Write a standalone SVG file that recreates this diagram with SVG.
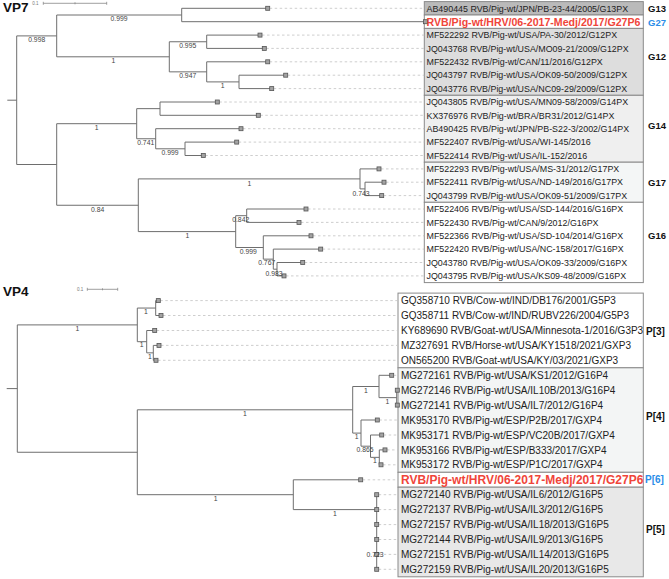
<svg xmlns="http://www.w3.org/2000/svg" xmlns:xlink="http://www.w3.org/1999/xlink" width="669" height="579" viewBox="0 0 669 579">
<style>
.br{fill:none;stroke:#6e6e6e;stroke-width:1}
.ld{fill:none;stroke:#c2c2c2;stroke-width:0.8;stroke-dasharray:2.5 2.5}
.tip{fill:#a3a3a3;stroke:#555;stroke-width:0.8}
.sc{fill:none;stroke:#888;stroke-width:0.8}
.sct{font-family:"Liberation Sans",Arial,sans-serif;font-size:4.5px;fill:#777}
.bs{font-family:"Liberation Sans",Arial,sans-serif;font-size:6.8px;fill:#444;text-anchor:middle}
.l7{font-family:"Liberation Sans",Arial,sans-serif;font-size:8.9px;fill:#222}
.l4{font-family:"Liberation Sans",Arial,sans-serif;font-size:10px;fill:#222}
.r7{font-family:"Liberation Sans",Arial,sans-serif;font-size:10.6px;font-weight:bold;fill:#f0453a}
.r4{font-family:"Liberation Sans",Arial,sans-serif;font-size:12px;font-weight:bold;fill:#f0453a}
.g7{font-family:"Liberation Sans",Arial,sans-serif;font-size:9.5px;font-weight:bold;fill:#111}
.g4{font-family:"Liberation Sans",Arial,sans-serif;font-size:10px;font-weight:bold;fill:#111}
.blue{fill:#2a8de8}
.ttl{font-family:"Liberation Sans",Arial,sans-serif;font-size:13.5px;font-weight:bold;fill:#111}
.box{stroke:#8a8a8a;stroke-width:1}
</style>
<defs>
<rect id="sq" x="-2" y="-2" width="4" height="4" class="tip"/>
</defs>

<g id="titles">
<text class="ttl" x="3" y="11.7">VP7</text>
<text class="ttl" x="3" y="296">VP4</text>
<text class="sct" x="32.3" y="5">0.1</text>
<path class="sc" d="M43.3 3.3H106.7M43.3 1.8V4.8M75 2.3V4.3M106.7 1.8V4.8"/>
<text class="sct" x="77" y="290.8">0.1</text>
<path class="sc" d="M87.3 289.3H117.7M87.3 287.8V290.8M102.5 288.3V290.3M117.7 287.8V290.8"/>
</g>

<g id="vp7-boxes">
<g id="clade-G13"><rect class="box" x="424.3" y="1.6" width="219" height="13.4" fill="#bababa"/><text class="g7" x="648" y="11.7">G13</text></g>
<g id="clade-G27"><rect class="box" x="424.3" y="15" width="219" height="13.4" fill="#fff"/><text class="g7 blue" x="648" y="25.5">G27</text></g>
<g id="clade-G12"><rect class="box" x="424.3" y="28.4" width="219" height="66.9" fill="#dddddd"/><text class="g7" x="648" y="60">G12</text></g>
<g id="clade-G14"><rect class="box" x="424.3" y="95.3" width="219" height="66.9" fill="#efefef"/><text class="g7" x="648" y="129">G14</text></g>
<g id="clade-G17"><rect class="box" x="424.3" y="162.2" width="219" height="40.1" fill="#f4f6f6"/><text class="g7" x="648" y="186">G17</text></g>
<g id="clade-G16"><rect class="box" x="424.3" y="202.3" width="219" height="80.3" fill="#ffffff"/><text class="g7" x="648" y="239.3">G16</text></g>
</g>

<g id="vp4-boxes">
<g id="clade-P3"><rect class="box" x="398" y="293.1" width="245.3" height="74.7" fill="#fff"/><text class="g4" x="646" y="335">P[3]</text></g>
<g id="clade-P4"><rect class="box" x="398" y="367.8" width="245.3" height="104.5" fill="#f3f5f5"/><text class="g4" x="646" y="420">P[4]</text></g>
<g id="clade-P6"><rect class="box" x="398" y="472.3" width="245.3" height="14.9" fill="#fff"/><text class="g4 blue" x="645" y="483">P[6]</text></g>
<g id="clade-P5"><rect class="box" x="398" y="487.2" width="245.3" height="89.6" fill="#e8e8e8"/><text class="g4" x="646" y="533">P[5]</text></g>
</g>

<g id="connectors">
<path class="ld" d="M269.7 8.3H424.3M262 35.1H424.3M266.3 48.4H424.3M269.7 61.8H424.3M287.7 75.2H424.3M273.7 88.6H424.3M219.3 102H424.3M260.3 115.3H424.3M243 128.7H424.3M238.7 142.1H424.3M205.3 155.5H424.3M381 168.9H424.3M386 182.2H424.3M383.7 195.6H424.3M308 209H424.3M301 222.4H424.3M313 235.8H424.3M322.7 249.1H424.3M304.7 262.5H424.3M286 275.9H424.3"/>
<path class="ld" d="M160.3 300.6H398M163 315.5H398M156.7 330.5H398M161 345.4H398M158 360.3H398M393.7 375.3H398M379.3 420H398M383.7 435H398M387 449.9H398M383 464.8H398M362.7 479.8H398M378.7 494.7H398M378.7 509.6H398M378.7 524.6H398M378.7 539.5H398M378.7 554.4H398M378.7 569.3H398"/>
<path class="br" d="M7.3 100.2H16.7M16.7 35.9V164.5
M16.7 35.9H56.7M56.7 15V56.8
M56.7 15H181.7M181.7 8.3V21.7M181.7 8.3H267.7M181.7 21.7H424.3
M56.7 56.8H169.3M169.3 41.75V71.85
M169.3 41.75H206.7M206.7 35.1V48.4M206.7 35.1H260M206.7 48.4H264.3
M169.3 71.85H206.7M206.7 61.8V81.9M206.7 61.8H267.7
M206.7 81.9H239M239 75.2V88.6M239 75.2H285.7M239 88.6H271.7
M16.7 164.5H56.7M56.7 123.7V205.25
M56.7 123.7H136.7M136.7 108.65V138.75
M136.7 108.65H160M160 102V115.3M160 102H217.3M160 115.3H258.3
M136.7 138.75H155.7M155.7 128.7V148.8M155.7 128.7H241
M155.7 148.8H185M185 142.1V155.5M185 142.1H236.7M185 155.5H203.3
M56.7 205.25H138.3M138.3 178.9V231.6
M138.3 178.9H360M360 168.9V188.9M360 168.9H379
M360 188.9H365M365 182.2V195.6M365 182.2H384M365 195.6H381.7
M138.3 231.6H235.7M235.7 215.7V247.5
M235.7 215.7H246.7M246.7 209V222.4M246.7 209H306M246.7 222.4H299
M235.7 247.5H263.3M263.3 235.8V259.15M263.3 235.8H311
M263.3 259.15H273.3M273.3 249.1V269.2M273.3 249.1H320.7
M273.3 269.2H277M277 262.5V275.9M277 262.5H302.7M277 275.9H284"/>
<path class="br" d="M6.7 388.6H17.3M17.3 324.9V452.25
M17.3 324.9H137.3M137.3 308.05V341.7
M137.3 308.05H155.7M155.7 300.6V315.5M155.7 300.6H158.3M155.7 315.5H161
M137.3 341.7H146.7M146.7 330.5V352.85M146.7 330.5H154.7
M146.7 352.85H153.3M153.3 345.4V360.3M153.3 345.4H159M153.3 360.3H156
M17.3 452.25H137.3M137.3 409.8V494.7
M137.3 409.8H352.7M352.7 386.5V433.1
M352.7 386.5H379M379 375.3V397.65M379 375.3H391.7
M379 397.65H396.7M396.7 390.2V405.1
M352.7 433.1H361M361 420V446.2M361 420H377.3
M361 446.2H370.5M370.5 435V457.35M370.5 435H381.7
M370.5 457.35H379.3M379.3 449.9V464.8M379.3 449.9H385M379.3 464.8H381
M137.3 494.7H293.3M293.3 479.8V509.6M293.3 479.8H360.7
M293.3 509.6H376.7M376.7 494.7V569.3"/>
<g id="tips">
<use xlink:href="#sq" x="267.7" y="8.3"/><use xlink:href="#sq" x="425.5" y="21.7"/><use xlink:href="#sq" x="260" y="35.1"/><use xlink:href="#sq" x="264.3" y="48.4"/><use xlink:href="#sq" x="267.7" y="61.8"/><use xlink:href="#sq" x="285.7" y="75.2"/><use xlink:href="#sq" x="271.7" y="88.6"/><use xlink:href="#sq" x="217.3" y="102"/><use xlink:href="#sq" x="258.3" y="115.3"/><use xlink:href="#sq" x="241" y="128.7"/><use xlink:href="#sq" x="236.7" y="142.1"/><use xlink:href="#sq" x="203.3" y="155.5"/><use xlink:href="#sq" x="379" y="168.9"/><use xlink:href="#sq" x="384" y="182.2"/><use xlink:href="#sq" x="381.7" y="195.6"/><use xlink:href="#sq" x="306" y="209"/><use xlink:href="#sq" x="299" y="222.4"/><use xlink:href="#sq" x="311" y="235.8"/><use xlink:href="#sq" x="320.7" y="249.1"/><use xlink:href="#sq" x="302.7" y="262.5"/><use xlink:href="#sq" x="284" y="275.9"/>
<use xlink:href="#sq" x="158.3" y="300.6"/><use xlink:href="#sq" x="161" y="315.5"/><use xlink:href="#sq" x="154.7" y="330.5"/><use xlink:href="#sq" x="159" y="345.4"/><use xlink:href="#sq" x="156" y="360.3"/><use xlink:href="#sq" x="391.7" y="375.3"/><use xlink:href="#sq" x="397.3" y="390.2"/><use xlink:href="#sq" x="397.3" y="405.1"/><use xlink:href="#sq" x="377.3" y="420"/><use xlink:href="#sq" x="381.7" y="435"/><use xlink:href="#sq" x="385" y="449.9"/><use xlink:href="#sq" x="381" y="464.8"/><use xlink:href="#sq" x="360.7" y="479.8"/><use xlink:href="#sq" x="376.7" y="494.7"/><use xlink:href="#sq" x="376.7" y="509.6"/><use xlink:href="#sq" x="376.7" y="524.6"/><use xlink:href="#sq" x="376.7" y="539.5"/><use xlink:href="#sq" x="376.7" y="554.4"/><use xlink:href="#sq" x="376.7" y="569.3"/>
</g>
<g id="support">
<text class="bs" x="36.7" y="42.4">0.998</text>
<text class="bs" x="119" y="21.4">0.999</text>
<text class="bs" x="113.3" y="63.4">1</text>
<text class="bs" x="187.7" y="48.1">0.995</text>
<text class="bs" x="187.7" y="78.1">0.947</text>
<text class="bs" x="222.7" y="88.4">1</text>
<text class="bs" x="96.7" y="130.1">1</text>
<text class="bs" x="145.7" y="145.1">0.741</text>
<text class="bs" x="170" y="155.1">0.999</text>
<text class="bs" x="97.7" y="211.7">0.84</text>
<text class="bs" x="249.3" y="185.7">1</text>
<text class="bs" x="361" y="196.4">0.743</text>
<text class="bs" x="187.3" y="238.4">1</text>
<text class="bs" x="240.7" y="222.4">0.842</text>
<text class="bs" x="248.3" y="253.9">0.999</text>
<text class="bs" x="266.7" y="265.4">0.767</text>
<text class="bs" x="274" y="275.9">0.983</text>
<text class="bs" x="77.3" y="330.7">1</text>
<text class="bs" x="146" y="314.1">1</text>
<text class="bs" x="141.7" y="347.4">1</text>
<text class="bs" x="150" y="359.1">1</text>
<text class="bs" x="245" y="415.7">1</text>
<text class="bs" x="366" y="393.1">1</text>
<text class="bs" x="387.3" y="404.1">1</text>
<text class="bs" x="356.7" y="438.9">1</text>
<text class="bs" x="365" y="451.9">0.865</text>
<text class="bs" x="375" y="462.9">1</text>
<text class="bs" x="215.7" y="501.4">1</text>
<text class="bs" x="335" y="515.7">1</text>
<text class="bs" x="375" y="557.4">0.723</text>
</g>
</g>

<g id="vp7-leaves">
<g id="leaf-AB490445"><text class="l7" x="426.5" y="11.5">AB490445 RVB/Pig-wt/JPN/PB-23-44/2005/G13PX</text></g>
<g id="leaf-HRV-VP7"><text class="r7" x="426.5" y="25.5">RVB/Pig-wt/HRV/06-2017-Medj/2017/G27P6</text></g>
<g id="leaf-MF522292"><text class="l7" x="426.5" y="38.3">MF522292 RVB/Pig-wt/USA/PA-30/2012/G12PX</text></g>
<g id="leaf-JQ043768"><text class="l7" x="426.5" y="51.6">JQ043768 RVB/Pig-wt/USA/MO09-21/2009/G12PX</text></g>
<g id="leaf-MF522432"><text class="l7" x="426.5" y="65">MF522432 RVB/Pig-wt/CAN/11/2016/G12PX</text></g>
<g id="leaf-JQ043797"><text class="l7" x="426.5" y="78.4">JQ043797 RVB/Pig-wt/USA/OK09-50/2009/G12PX</text></g>
<g id="leaf-JQ043776"><text class="l7" x="426.5" y="91.8">JQ043776 RVB/Pig-wt/USA/NC09-29/2009/G12PX</text></g>
<g id="leaf-JQ043805"><text class="l7" x="426.5" y="105.2">JQ043805 RVB/Pig-wt/USA/MN09-58/2009/G14PX</text></g>
<g id="leaf-KX376976"><text class="l7" x="426.5" y="118.5">KX376976 RVB/Pig-wt/BRA/BR31/2012/G14PX</text></g>
<g id="leaf-AB490425"><text class="l7" x="426.5" y="131.9">AB490425 RVB/Pig-wt/JPN/PB-S22-3/2002/G14PX</text></g>
<g id="leaf-MF522407"><text class="l7" x="426.5" y="145.3">MF522407 RVB/Pig-wt/USA/WI-145/2016</text></g>
<g id="leaf-MF522414"><text class="l7" x="426.5" y="158.7">MF522414 RVB/Pig-wt/USA/IL-152/2016</text></g>
<g id="leaf-MF522293"><text class="l7" x="426.5" y="172.1">MF522293 RVB/Pig-wt/USA/MS-31/2012/G17PX</text></g>
<g id="leaf-MF522411"><text class="l7" x="426.5" y="185.4">MF522411 RVB/Pig-wt/USA/ND-149/2016/G17PX</text></g>
<g id="leaf-JQ043799"><text class="l7" x="426.5" y="198.8">JQ043799 RVB/Pig-wt/USA/OK09-51/2009/G17PX</text></g>
<g id="leaf-MF522406"><text class="l7" x="426.5" y="212.2">MF522406 RVB/Pig-wt/USA/SD-144/2016/G16PX</text></g>
<g id="leaf-MF522430"><text class="l7" x="426.5" y="225.6">MF522430 RVB/Pig-wt/CAN/9/2012/G16PX</text></g>
<g id="leaf-MF522366"><text class="l7" x="426.5" y="239">MF522366 RVB/Pig-wt/USA/SD-104/2014/G16PX</text></g>
<g id="leaf-MF522420"><text class="l7" x="426.5" y="252.3">MF522420 RVB/Pig-wt/USA/NC-158/2017/G16PX</text></g>
<g id="leaf-JQ043780"><text class="l7" x="426.5" y="265.7">JQ043780 RVB/Pig-wt/USA/OK09-33/2009/G16PX</text></g>
<g id="leaf-JQ043795"><text class="l7" x="426.5" y="279.1">JQ043795 RVB/Pig-wt/USA/KS09-48/2009/G16PX</text></g>
</g>

<g id="vp4-leaves">
<g id="leaf-GQ358710"><text class="l4" x="401" y="304.2">GQ358710 RVB/Cow-wt/IND/DB176/2001/G5P3</text></g>
<g id="leaf-GQ358711"><text class="l4" x="401" y="319.1">GQ358711 RVB/Cow-wt/IND/RUBV226/2004/G5P3</text></g>
<g id="leaf-KY689690"><text class="l4" x="401" y="334.1">KY689690 RVB/Goat-wt/USA/Minnesota-1/2016/G3P3</text></g>
<g id="leaf-MZ327691"><text class="l4" x="401" y="349">MZ327691 RVB/Horse-wt/USA/KY1518/2021/GXP3</text></g>
<g id="leaf-ON565200"><text class="l4" x="401" y="363.9">ON565200 RVB/Goat-wt/USA/KY/03/2021/GXP3</text></g>
<g id="leaf-MG272161"><text class="l4" x="401" y="378.9">MG272161 RVB/Pig-wt/USA/KS1/2012/G16P4</text></g>
<g id="leaf-MG272146"><text class="l4" x="401" y="393.8">MG272146 RVB/Pig-wt/USA/IL10B/2013/G16P4</text></g>
<g id="leaf-MG272141"><text class="l4" x="401" y="408.7">MG272141 RVB/Pig-wt/USA/IL7/2012/G16P4</text></g>
<g id="leaf-MK953170"><text class="l4" x="401" y="423.6">MK953170 RVB/Pig-wt/ESP/P2B/2017/GXP4</text></g>
<g id="leaf-MK953171"><text class="l4" x="401" y="438.6">MK953171 RVB/Pig-wt/ESP/VC20B/2017/GXP4</text></g>
<g id="leaf-MK953166"><text class="l4" x="401" y="453.5">MK953166 RVB/Pig-wt/ESP/B333/2017/GXP4</text></g>
<g id="leaf-MK953172"><text class="l4" x="401" y="468.4">MK953172 RVB/Pig-wt/ESP/P1C/2017/GXP4</text></g>
<g id="leaf-HRV-VP4"><text class="r4" x="401" y="484.1">RVB/Pig-wt/HRV/06-2017-Medj/2017/G27P6</text></g>
<g id="leaf-MG272140"><text class="l4" x="401" y="498.3">MG272140 RVB/Pig-wt/USA/IL6/2012/G16P5</text></g>
<g id="leaf-MG272137"><text class="l4" x="401" y="513.2">MG272137 RVB/Pig-wt/USA/IL3/2012/G16P5</text></g>
<g id="leaf-MG272157"><text class="l4" x="401" y="528.2">MG272157 RVB/Pig-wt/USA/IL18/2013/G16P5</text></g>
<g id="leaf-MG272144"><text class="l4" x="401" y="543.1">MG272144 RVB/Pig-wt/USA/IL9/2013/G16P5</text></g>
<g id="leaf-MG272151"><text class="l4" x="401" y="558">MG272151 RVB/Pig-wt/USA/IL14/2013/G16P5</text></g>
<g id="leaf-MG272159"><text class="l4" x="401" y="572.9">MG272159 RVB/Pig-wt/USA/IL20/2013/G16P5</text></g>
</g>
</svg>
